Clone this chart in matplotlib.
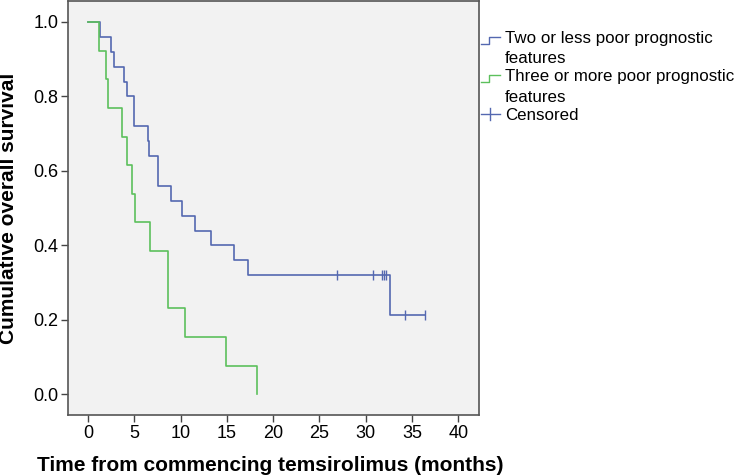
import matplotlib
matplotlib.use("Agg")
import matplotlib.pyplot as plt
from matplotlib.lines import Line2D
from matplotlib.legend_handler import HandlerBase

plt.rcParams['font.family'] = ['Liberation Sans', 'DejaVu Sans']

# Group 1: two or less poor prognostic features (n=25)
blue_times = [0, 1.3, 2.5, 2.8, 3.9, 4.25, 5.0, 6.45, 6.6, 7.6, 9.0, 10.2, 11.6, 13.3, 15.8, 17.3, 32.6, 36.4]
blue_surv = [1.0, 0.96, 0.92, 0.88, 0.84, 0.80, 0.72, 0.68, 0.64, 0.56, 0.52, 0.48, 0.44, 0.40, 0.36, 0.32, 0.2133, 0.2133]
blue_cens_t = [26.9, 30.8, 31.8, 32.0, 32.2, 34.2, 36.4]
blue_cens_s = [0.32, 0.32, 0.32, 0.32, 0.32, 0.2133, 0.2133]

# Group 2: three or more poor prognostic features (n=13)
green_times = [0, 1.2, 2.0, 2.2, 3.7, 4.2, 4.8, 5.05, 6.7, 8.6, 8.7, 10.5, 14.9, 18.3]
green_surv = [1.0, 0.923, 0.846, 0.769, 0.692, 0.615, 0.538, 0.462, 0.385, 0.308, 0.231, 0.154, 0.077, 0.0]

labels = ["Two or less poor prognostic\nfeatures", "Three or more poor prognostic\nfeatures", "Censored"]
xticks = [0, 5, 10, 15, 20, 25, 30, 35, 40]
yticks = [0.0, 0.2, 0.4, 0.6, 0.8, 1.0]

BLUE = '#5468b0'
GREEN = '#5cc05c'

fig = plt.figure(figsize=(7.34, 4.75), dpi=100)
ax = fig.add_axes([68.3/734, 1 - 415/475, (479.3-68.3)/734, (415-1)/475])
ax.set_facecolor('#f2f2f2')

ax.step(blue_times, blue_surv, where='post', color=BLUE, lw=1.2)
ax.step(green_times, green_surv, where='post', color=GREEN, lw=1.2)
ax.plot(blue_cens_t, blue_cens_s, ls='none', marker='|', ms=7, mew=1.0, color=BLUE)

ax.set_xlim(-2.11, 42.25)
ax.set_ylim(-0.0554, 1.0563)
ax.set_xticks(xticks)
ax.set_xticklabels([str(t) for t in xticks])
ax.set_yticks(yticks)
ax.set_yticklabels([f"{v:.1f}" for v in yticks])
ax.tick_params(axis='both', labelsize=13, length=5, width=1, color='#444444', direction='out', pad=2)
for s in ax.spines.values():
    s.set_color('#555555')
    s.set_linewidth(1.2)

ax.set_xlabel("Time from commencing temsirolimus (months)", fontsize=15, fontweight='bold')
ax.set_ylabel("Cumulative overall survival", fontsize=15, fontweight='bold')
ax.xaxis.set_label_coords(-0.075, -0.098)
ax.xaxis.label.set_horizontalalignment('left')
ax.yaxis.set_label_coords(-0.123, 0.5)


class StepHandler(HandlerBase):
    def __init__(self, color, censor=False):
        super().__init__()
        self.color = color
        self.censor = censor

    def create_artists(self, legend, orig_handle, xdescent, ydescent, width, height, fontsize, trans):
        top = height + 0.3 * fontsize
        y0 = top - 0.35 * fontsize
        if self.censor:
            y0 = height * 0.5
            ln = Line2D([0, width], [y0, y0], color=self.color, lw=1.0, transform=trans)
            tk = Line2D([width / 2, width / 2], [y0 - 4, y0 + 4], color=self.color, lw=1.0, transform=trans)
            return [ln, tk]
        ln = Line2D([0, width * 0.45, width * 0.45, width], [y0, y0, y0 + 5, y0 + 5],
                    color=self.color, lw=1.0, transform=trans)
        return [ln]


h1 = Line2D([], [], color=BLUE)
h2 = Line2D([], [], color=GREEN)
h3 = Line2D([], [], color=BLUE, marker='|')
leg = ax.legend([h1, h2, h3], labels,
                handler_map={h1: StepHandler(BLUE), h2: StepHandler(GREEN), h3: StepHandler(BLUE, True)},
                loc='upper left', bbox_to_anchor=(481/734, 1 - 31/475), bbox_transform=fig.transFigure,
                frameon=False, fontsize=12.2, handlelength=1.1, handletextpad=0.3,
                labelspacing=0.18, borderaxespad=0, borderpad=0)
for t in leg.get_texts():
    t.set_linespacing(1.45)

fig.savefig("out.png", dpi=100)
